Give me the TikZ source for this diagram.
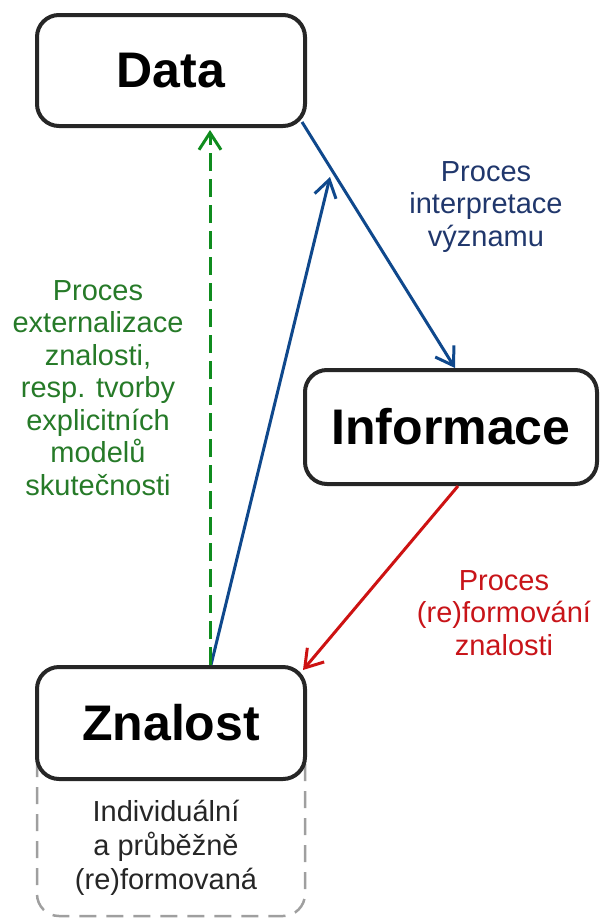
\documentclass[tikz,border=0pt]{standalone}
\usepackage{fontspec}
\setmainfont{Liberation Sans}
\usetikzlibrary{arrows.meta}
\definecolor{ablue}{RGB}{15,72,140}
\definecolor{tblue}{RGB}{32,55,108}
\definecolor{agreen}{RGB}{15,140,30}
\definecolor{tgreen}{RGB}{38,122,40}
\definecolor{ared}{RGB}{205,18,18}
\definecolor{tred}{RGB}{200,20,25}
\begin{document}
\begin{tikzpicture}[x=1pt,y=-1pt,
  box/.style={draw=black!85, line width=4pt, rounded corners=22pt, fill=white,
    font=\fontsize{50}{50}\selectfont\bfseries, inner sep=0pt},
  lbl/.style={align=center, font=\fontsize{29}{32.5}\selectfont},
  arr/.style={line width=3pt, -{Straight Barb[length=17pt,width=22pt,line width=3pt]}}
]
\useasboundingbox (0,0) rectangle (600,921);
% dashed container under Znalost
\draw[gray!75, line width=2.5pt, dash pattern=on 17pt off 10pt, rounded corners=22pt]
  (37,760) -- (37,916) -- (305,916) -- (305,760);
\node[box, minimum width=268pt, minimum height=111pt] (data) at (171,70.5) {Data};
\node[box, minimum width=292pt, minimum height=114pt] (info) at (451,427) {Informace};
\node[box, minimum width=268pt, minimum height=112pt] (zn) at (171,723) {Znalost};
\node[align=center, font=\fontsize{29}{34}\selectfont, text=black!85] (ind) at (166,848)
  {Individuální\\a průběžně\\(re)formovaná};
\coordinate (upend) at (330,177);
% connectors
\draw[arr, ablue] ([shift={(-5,-6)}]data.south east) -- ([xshift=4pt]info.north);
\draw[arr, ablue] ([xshift=40pt]zn.north) -- (upend);
\draw[arr, agreen, dash pattern=on 18pt off 8pt] ([xshift=39pt]zn.north) -- ([shift={(39,2)}]data.south);
\draw[arr, ared] ([xshift=7pt]info.south) -- ([shift={(-4,5)}]zn.north east);
% labels
\node[lbl, text=tblue] (lblue) at (486,207) {Proces\\interpretace\\významu};
\node[lbl, text=tgreen] (lgreen) at (98,388) {Proces\\externalizace\\znalosti,\\resp. tvorby\\explicitních\\modelů\\skutečnosti};
\node[lbl, text=tred] (lred) at (504,613) {Proces\\(re)formování\\znalosti};
\end{tikzpicture}
\end{document}
